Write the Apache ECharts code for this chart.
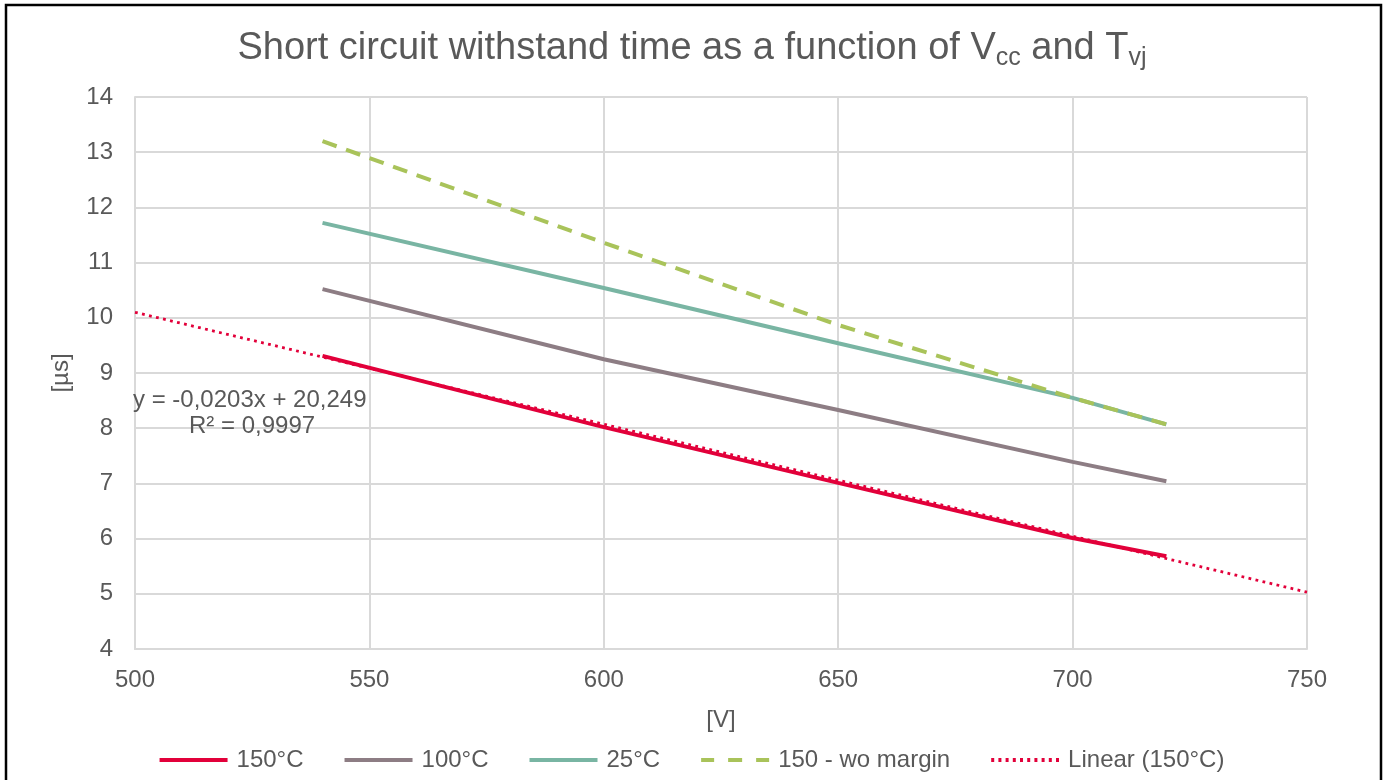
<!DOCTYPE html>
<html>
<head>
<meta charset="utf-8">
<script src="https://cdn.jsdelivr.net/npm/echarts@6/dist/echarts.min.js"></script>
<style>
html,body{margin:0;padding:0;background:#fff;}
#chart{width:1384px;height:780px;}
</style>
</head>
<body>
<div id="chart"></div>
<script>
// Data
const vcc = [540, 600, 650, 700, 720];
const t150 = [9.31, 8.02, 7.01, 6.01, 5.68];
const t100 = [10.52, 9.25, 8.33, 7.39, 7.04];
const t25 = [11.72, 10.54, 9.54, 8.55, 8.07];
const t150wo = [13.2, 11.36, 9.87, 8.55, 8.07];
const trendX = [500, 750];
const trendY = [10.1, 5.03];
const seriesNames = ['150°C', '100°C', '25°C', '150 - wo margin', 'Linear (150°C)'];
const xTicks = {min: 500, max: 750, interval: 50};
const yTicks = {min: 4, max: 14, interval: 1};
const trendLabel = ['y = -0,0203x + 20,249', 'R² = 0,9997'];

const pair = (xs, ys) => xs.map((x, i) => [x, ys[i]]);
const txt = '#595959';
const font = 'Liberation Sans, Arial, sans-serif';

// legend icon shapes (68 x 4 box)
function rectPath(x0, x1) { return 'M' + x0 + ',0L' + x1 + ',0L' + x1 + ',4L' + x0 + ',4Z'; }
const iconSolid = 'path://' + rectPath(0, 68);
const iconDash = 'path://' + rectPath(0, 13) + rectPath(27, 41) + rectPath(55, 68);
let dots = '';
for (let i = 0; i < 10; i++) { dots += rectPath(i * 7.2, i * 7.2 + 3); }
const iconDot = 'path://' + dots;

const chart = echarts.init(document.getElementById('chart'));
const lw = 4;
chart.setOption({
  animation: false,
  textStyle: {fontFamily: font},
  title: {
    text: '{a|Short circuit withstand time as a function of V}{s|cc}{a| and T}{s|vj}',
    left: 'center', top: 22,
    textStyle: {
      fontWeight: 'normal',
      rich: {
        a: {fontSize: 38, color: txt, fontFamily: font, fontWeight: 'normal'},
        s: {fontSize: 25, color: txt, fontFamily: font, fontWeight: 'normal', padding: [19, 0, 0, 0]}
      }
    }
  },
  grid: {left: 135, right: 77, top: 97, bottom: 131},
  xAxis: {
    type: 'value', min: xTicks.min, max: xTicks.max, interval: xTicks.interval,
    name: '[V]', nameLocation: 'middle', nameGap: 59,
    nameTextStyle: {fontSize: 24, color: txt},
    axisLine: {show: true, lineStyle: {color: '#d9d9d9', width: 2}},
    axisTick: {show: false},
    axisLabel: {fontSize: 24, color: txt, margin: 19},
    splitLine: {show: true, lineStyle: {color: '#d9d9d9', width: 2}}
  },
  yAxis: {
    type: 'value', min: yTicks.min, max: yTicks.max, interval: yTicks.interval,
    name: '[µs]', nameLocation: 'middle', nameGap: 62, nameRotate: 90,
    nameTextStyle: {fontSize: 24, color: txt},
    axisLine: {show: true, lineStyle: {color: '#d9d9d9', width: 2}},
    axisTick: {show: false},
    axisLabel: {fontSize: 24, color: txt, margin: 22},
    splitLine: {show: true, lineStyle: {color: '#d9d9d9', width: 2}}
  },
  legend: {
    bottom: 3, left: 'center',
    itemWidth: 68, itemHeight: 4, itemGap: 41,
    textStyle: {fontSize: 24, color: txt, padding: [0, 0, 0, 4]},
    data: [
      {name: seriesNames[0], icon: iconSolid},
      {name: seriesNames[1], icon: iconSolid},
      {name: seriesNames[2], icon: iconSolid},
      {name: seriesNames[3], icon: iconDash},
      {name: seriesNames[4], icon: iconDot}
    ]
  },
  graphic: [
    {type: 'rect', silent: true, z: 100,
     shape: {x: 6, y: 5, width: 1375, height: 820},
     style: {fill: 'none', stroke: '#000', lineWidth: 2.5}},
    {type: 'text', left: 133, top: 388, z: 50,
     style: {text: trendLabel[0], fontSize: 24, fill: txt, fontFamily: font}},
    {type: 'text', left: 189, top: 414, z: 50,
     style: {text: trendLabel[1], fontSize: 24, fill: txt, fontFamily: font}}
  ],
  series: [
    {name: seriesNames[4], type: 'line', data: pair(trendX, trendY), symbol: 'none',
     lineStyle: {color: '#e2003a', width: 2.8, type: [2.8, 4.4]}, itemStyle: {color: '#e2003a'}, z: 6},
    {name: seriesNames[0], type: 'line', data: pair(vcc, t150), symbol: 'none',
     lineStyle: {color: '#e2003a', width: lw}, itemStyle: {color: '#e2003a'}, z: 5},
    {name: seriesNames[1], type: 'line', data: pair(vcc, t100), symbol: 'none',
     lineStyle: {color: '#8d7d84', width: lw}, itemStyle: {color: '#8d7d84'}},
    {name: seriesNames[2], type: 'line', data: pair(vcc, t25), symbol: 'none',
     lineStyle: {color: '#79b5a3', width: lw}, itemStyle: {color: '#79b5a3'}},
    {name: seriesNames[3], type: 'line', data: pair(vcc, t150wo), symbol: 'none',
     lineStyle: {color: '#a9c35a', width: lw, type: [15, 10]}, itemStyle: {color: '#a9c35a'}}
  ]
});
</script>
</body>
</html>
